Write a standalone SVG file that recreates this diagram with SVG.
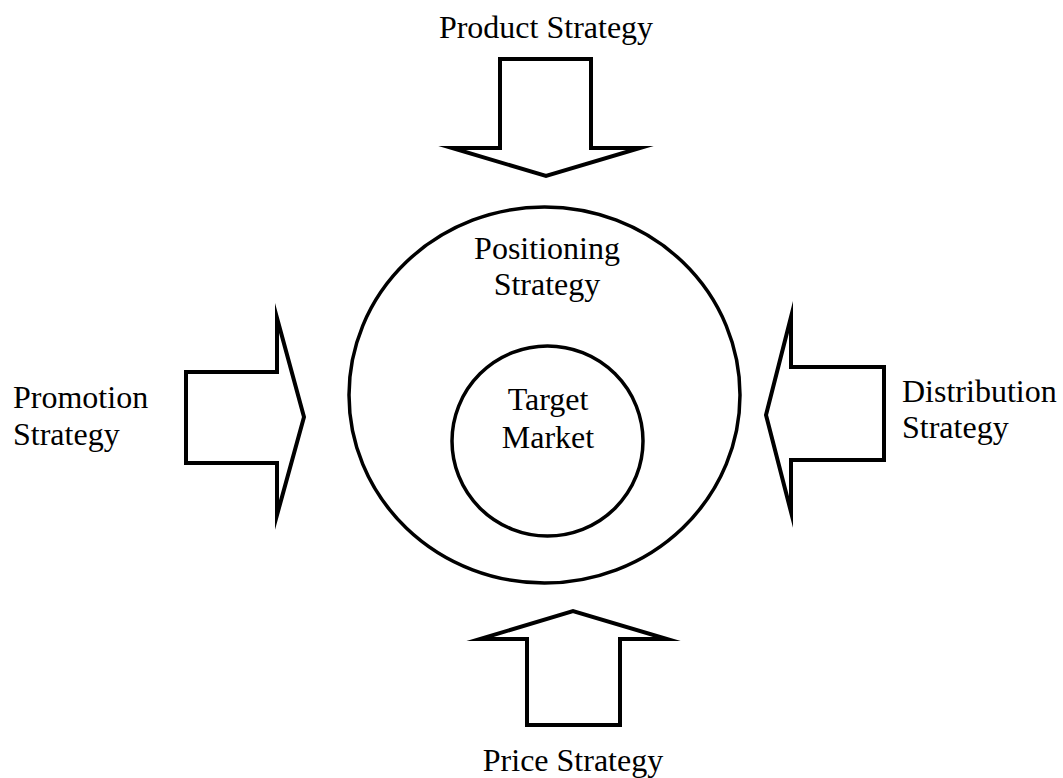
<svg xmlns="http://www.w3.org/2000/svg" width="1063" height="778" viewBox="0 0 1063 778">
  <style>
    .arrow { fill: #ffffff; stroke: #000000; stroke-width: 4; stroke-linejoin: miter; stroke-miterlimit: 12; }
    .ring { fill: none; stroke: #000000; stroke-width: 3.5; }
    .label { font-family: "Liberation Serif", "Times New Roman", serif; font-size: 32px; fill: #000000; }
    .mid { text-anchor: middle; }
  </style>
  <rect width="1063" height="778" fill="#ffffff"/>

  <!-- concentric rings -->
  <g id="positioning">
    <ellipse class="ring" cx="544.5" cy="395" rx="195.5" ry="188"/>
    <text class="label mid" x="547" y="259">Positioning</text>
    <text class="label mid" x="547" y="295">Strategy</text>
  </g>
  <g id="target-market">
    <ellipse class="ring" cx="547.5" cy="441" rx="95.5" ry="95"/>
    <text class="label mid" x="548" y="410">Target</text>
    <text class="label mid" x="548" y="448">Market</text>
  </g>

  <!-- block arrows pointing at the rings -->
  <g id="connectors">
    <polygon class="arrow" points="500,59 591,59 591,148 640,148 546,176 452,148 500,148"/>
    <polygon class="arrow" points="527,725 620,725 620,639 667,639 573,611 480,639 527,639"/>
    <polygon class="arrow" points="186,372 277,372 277,318 304,417 277,515 277,463 186,463"/>
    <polygon class="arrow" points="884,367 791,367 791,317 766,415 791,512 791,460 884,460"/>
  </g>

  <g id="product-strategy">
    <text class="label mid" x="546" y="38">Product Strategy</text>
  </g>
  <g id="price-strategy">
    <text class="label mid" x="573" y="771">Price Strategy</text>
  </g>
  <g id="promotion-strategy">
    <text class="label" x="13" y="408">Promotion</text>
    <text class="label" x="13" y="445">Strategy</text>
  </g>
  <g id="distribution-strategy">
    <text class="label" x="902" y="402">Distribution</text>
    <text class="label" x="902" y="438">Strategy</text>
  </g>
</svg>
